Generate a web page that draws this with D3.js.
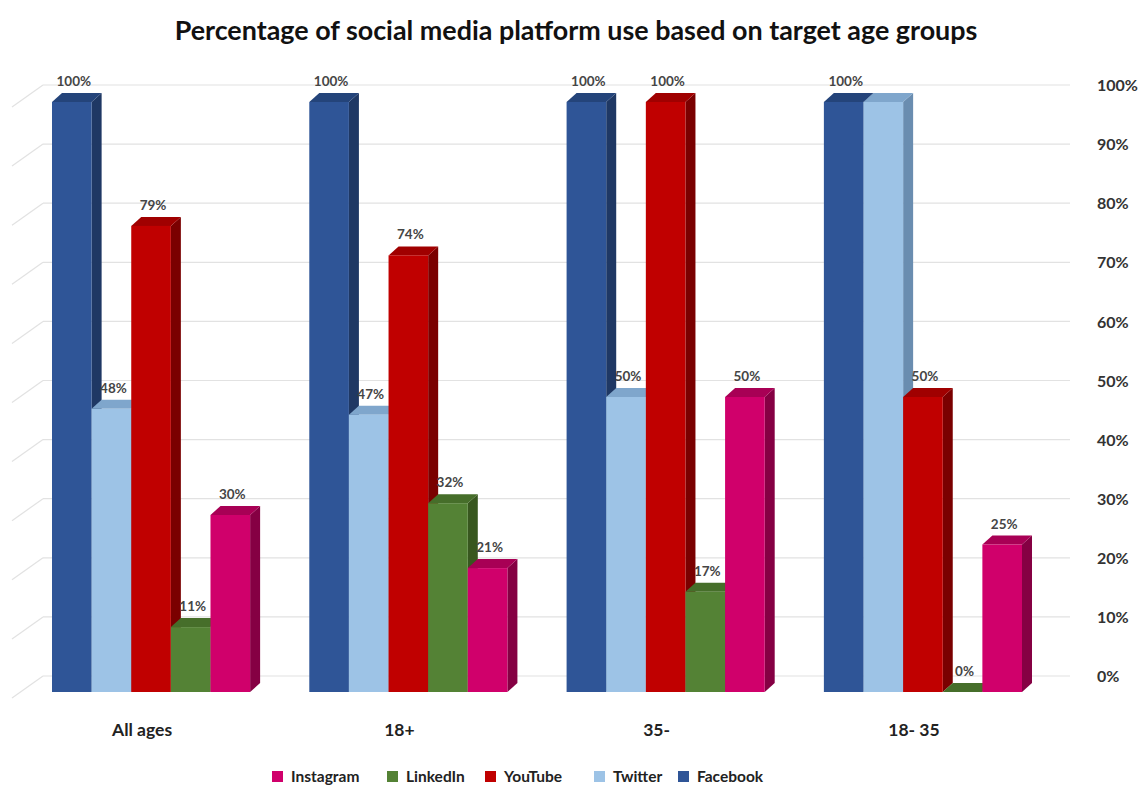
<!DOCTYPE html>
<html>
<head>
<meta charset="utf-8">
<script src="https://cdn.jsdelivr.net/npm/d3@7"></script>
<style>
  html, body { margin: 0; padding: 0; background: #ffffff; }
  svg { display: block; }
  text { font-family: Lato, "Open Sans", "DejaVu Sans", sans-serif; }
</style>
</head>
<body>
<svg id="chart" width="1145" height="790"></svg>
<script>
// ---- data ----
const title = "Percentage of social media platform use based on target age groups";
const categories = ["All ages", "18+", "35-", "18- 35"];
const seriesNames = ["Facebook", "Twitter", "YouTube", "LinkedIn", "Instagram"];
const facebook  = [100, 100, 100, 100];
const twitter   = [48, 47, 50, 100];
const youtube   = [79, 74, 100, 50];
const linkedin  = [11, 32, 17, 0];
const instagram = [30, 21, 50, 25];
const yTicks = [0, 10, 20, 30, 40, 50, 60, 70, 80, 90, 100];
const legendOrder = ["Instagram", "LinkedIn", "YouTube", "Twitter", "Facebook"];

const seriesValues = { Facebook: facebook, Twitter: twitter, YouTube: youtube, LinkedIn: linkedin, Instagram: instagram };
const colors = {
  Facebook:  { front: "#2f5597", side: "#1f3864", top: "#24447a" },
  Twitter:   { front: "#9dc3e6", side: "#6a8db0", top: "#7fa6cc" },
  YouTube:   { front: "#c00000", side: "#7a0000", top: "#a00000" },
  LinkedIn:  { front: "#548235", side: "#38571f", top: "#466e2a" },
  Instagram: { front: "#d0006b", side: "#850043", top: "#a80055" }
};

// ---- layout ----
const svg = d3.select("#chart");
const depthX = 10, depthY = 9;     // bar depth
const wallOffset = 16;             // back-wall shift (px upwards)

const x0 = d3.scaleBand().domain(categories).range([52, 1022]).paddingInner(0.23).paddingOuter(0);
const x1 = d3.scaleBand().domain(seriesNames).range([0, x0.bandwidth()]).padding(0);
const yFront = d3.scaleLinear().domain([0, 100]).range([692, 102]);
const yWall = d3.scaleLinear().domain([0, 100]).range([692 - wallOffset, 102 - wallOffset - 1]);

// ---- title ----
const t = svg.append("text")
  .attr("x", 576).attr("y", 40)
  .attr("text-anchor", "middle")
  .attr("font-weight", 700)
  .attr("font-size", 20)
  .attr("fill", "#111")
  .text(title);
const tw = t.node().getComputedTextLength();
t.attr("font-size", 20 * 803 / tw);

// ---- gridlines (back wall + left wall) ----
const grid = svg.append("g");
yTicks.forEach(v => {
  const y = yWall(v);
  grid.append("line").attr("x1", 43).attr("x2", 1070).attr("y1", y).attr("y2", y)
    .attr("stroke", "#e2e2e2").attr("stroke-width", 1.2);
  grid.append("line").attr("x1", 12).attr("x2", 43).attr("y1", y + 22).attr("y2", y)
    .attr("stroke", "#e2e2e2").attr("stroke-width", 1.2);
});

// ---- right axis ----
const axis = d3.axisRight(yWall).tickValues(yTicks).tickSize(0).tickPadding(0).tickFormat(d => d + "%");
const ag = svg.append("g").attr("transform", "translate(1097,0)").call(axis);
ag.select(".domain").remove();
ag.selectAll("text")
  .attr("font-size", 16).attr("font-weight", 700).attr("fill", "#333")
  .attr("font-family", "Lato, 'Open Sans', sans-serif")
  .attr("dy", "0.35em");

// ---- bars ----
const barsG = svg.append("g");
const labelsG = svg.append("g");
categories.forEach((cat, ci) => {
  seriesNames.forEach((s, si) => {
    const v = seriesValues[s][ci];
    const xl = x0(cat) + x1(s);
    const xr = xl + x1.bandwidth();
    const yt = yFront(v);
    const yb = yFront(0);
    const c = colors[s];
    const g = barsG.append("g");
    // side face
    g.append("path")
      .attr("d", `M${xr},${yt} L${xr + depthX},${yt - depthY} L${xr + depthX},${yb - depthY} L${xr},${yb} Z`)
      .attr("fill", c.side);
    // top face
    g.append("path")
      .attr("d", `M${xl},${yt} L${xl + depthX},${yt - depthY} L${xr + depthX},${yt - depthY} L${xr},${yt} Z`)
      .attr("fill", c.top);
    // front face
    g.append("rect")
      .attr("x", xl).attr("y", yt)
      .attr("width", x1.bandwidth()).attr("height", Math.max(0, yb - yt))
      .attr("fill", c.front);

    // label (hidden when it would sit on an identical neighbour's label)
    const prev = si > 0 ? seriesValues[seriesNames[si - 1]][ci] : null;
    if (prev !== v) {
      labelsG.append("text")
        .attr("x", (xl + xr) / 2 + 2)
        .attr("y", yt - 16)
        .attr("text-anchor", "middle")
        .attr("font-size", 13.5)
        .attr("font-weight", 700)
        .attr("fill", "#454545")
        .text(v + "%");
    }
  });
});

// ---- category labels ----
categories.forEach(cat => {
  svg.append("text")
    .attr("x", x0(cat) + x0.bandwidth() / 2 - 9)
    .attr("y", 736)
    .attr("text-anchor", "middle")
    .attr("font-size", 17.5)
    .attr("font-weight", 700)
    .attr("fill", "#222")
    .text(cat);
});

// ---- legend ----
const legendX = [272, 387, 485, 594, 678];
const lg = svg.append("g");
legendOrder.forEach((s, i) => {
  lg.append("rect").attr("x", legendX[i]).attr("y", 771).attr("width", 11).attr("height", 11)
    .attr("fill", colors[s].front);
  lg.append("text").attr("x", legendX[i] + 19).attr("y", 782)
    .attr("font-size", 15.5).attr("font-weight", 700).attr("fill", "#222")
    .text(s);
});
</script>
</body>
</html>
